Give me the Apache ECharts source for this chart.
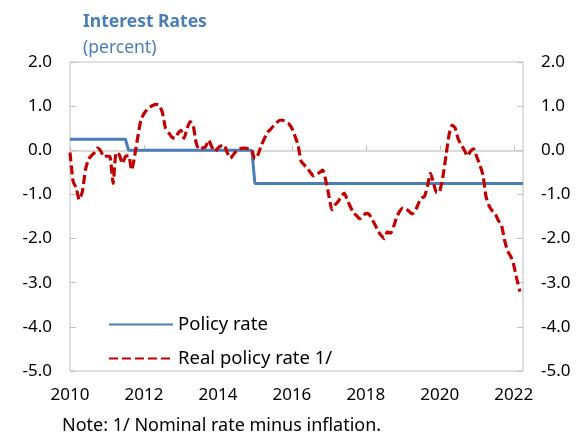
<!DOCTYPE html>
<html>
<head>
<meta charset="utf-8">
<script src="https://cdn.jsdelivr.net/npm/echarts@6/dist/echarts.min.js"></script>
<style>
  html, body { margin: 0; padding: 0; background: #fff; }
  #chart { width: 582px; height: 438px; }
</style>
</head>
<body>
<div id="chart"></div>
<script>
// Monthly categories, Jan 2010 to Apr 2022
const months = [];
for (let y = 2010; y <= 2022; y++) {
  for (let m = 1; m <= 12; m++) {
    if (y === 2022 && m > 4) break;
    months.push(y + '-' + String(m).padStart(2, '0'));
  }
}

// Policy rate: level changes (month, percent)
const policyRate = [
  ['2010-01', 0.25], ['2011-07', 0.25],
  ['2011-08', 0.00], ['2014-12', 0.00],
  ['2015-01', -0.75], ['2022-04', -0.75]
];

// Real policy rate (nominal rate minus inflation), monthly from Jan 2010
const realPolicyRate = [
  -0.05, -0.70, -0.85, -1.12, -0.94, -0.45, -0.20, -0.12, -0.05, 0.05, -0.02, -0.15,
  -0.13, -0.15, -0.75, -0.05, -0.10, -0.30, -0.14, -0.12, -0.45, -0.12, 0.30, 0.68,
  0.83, 0.92, 0.98, 1.02, 1.04, 1.02, 0.85, 0.50, 0.40, 0.30, 0.27, 0.38,
  0.45, 0.27, 0.50, 0.65, 0.55, 0.15, 0.02, 0.05, 0.08, 0.23, 0.08, -0.03,
  0.05, 0.10, 0.12, -0.05, -0.18, -0.10, -0.02, 0.03, 0.05, 0.05, 0.03, 0.00,
  -0.20, -0.10, 0.10, 0.25, 0.40, 0.47, 0.55, 0.62, 0.68, 0.68, 0.64, 0.60,
  0.50, 0.32, 0.12, -0.25, -0.33, -0.40, -0.50, -0.58, -0.55, -0.50, -0.45, -0.68,
  -1.02, -1.35, -1.24, -1.16, -1.05, -0.97, -1.13, -1.28, -1.42, -1.48, -1.55, -1.50,
  -1.43, -1.45, -1.56, -1.69, -1.83, -1.93, -2.00, -1.85, -1.88, -1.73, -1.52, -1.38,
  -1.31, -1.33, -1.38, -1.44, -1.38, -1.22, -1.08, -1.05, -0.82, -0.52, -0.75, -0.97,
  -0.92, -0.60, -0.13, 0.35, 0.57, 0.50, 0.25, 0.12, 0.00, -0.13, -0.02, 0.03,
  -0.15, -0.33, -0.56, -1.05, -1.26, -1.37, -1.44, -1.59, -1.69, -2.03, -2.28, -2.40,
  -2.60, -2.92, -3.20
];

const BLUE = '#4a7eb5';
const RED = '#c00000';
const FONT = 'Noto Sans';

const chart = echarts.init(document.getElementById('chart'), null, { renderer: 'canvas' });

const yAxisCommon = {
  type: 'value',
  min: -5, max: 2, interval: 1,
  splitLine: { show: false },
  axisLine: { show: false, onZero: false },
  axisTick: { show: true, inside: true, length: 6, lineStyle: { color: '#bfbfbf', width: 1 } },
  axisLabel: {
    margin: 18, fontSize: 17, fontFamily: FONT, color: '#000',
    formatter: v => v.toFixed(1)
  }
};

chart.setOption({
  animation: false,
  backgroundColor: '#fff',
  textStyle: { fontFamily: FONT },
  title: [
    { text: 'Interest Rates', left: 78, top: 8,
      textStyle: { fontSize: 17.5, fontWeight: 'bold', color: BLUE, fontFamily: FONT } },
    { text: '(percent)', left: 78, top: 34,
      textStyle: { fontSize: 17.5, fontWeight: 'normal', color: BLUE, fontFamily: FONT } }
  ],
  grid: {
    left: 70, right: 59, top: 62, bottom: 67,
    show: true, borderColor: '#bfbfbf', borderWidth: 1, backgroundColor: 'transparent'
  },
  legend: {
    orient: 'vertical', left: 103, top: 310, itemGap: 15,
    itemWidth: 64, itemHeight: 14,
    itemStyle: { opacity: 0, borderWidth: 0 },
    textStyle: { fontSize: 18.5, color: '#000', fontFamily: FONT },
    data: ['Policy rate', 'Real policy rate 1/']
  },
  xAxis: [
    {
      type: 'category', data: months, boundaryGap: false, position: 'bottom',
      axisLine: { show: false, onZero: false },
      axisTick: { show: false },
      splitLine: { show: false },
      axisLabel: {
        interval: 23, margin: 16, fontSize: 17, fontFamily: FONT, color: '#000',
        formatter: v => v.slice(0, 4)
      }
    },
    {
      type: 'category', data: months, boundaryGap: false, position: 'bottom',
      axisLine: { show: true, onZero: true, lineStyle: { color: '#d9d9d9', width: 2 } },
      axisTick: { show: true, inside: true, interval: 23, length: 5, lineStyle: { color: '#bfbfbf', width: 1 } },
      axisLabel: { show: false },
      splitLine: { show: false }
    }
  ],
  yAxis: [
    Object.assign({ position: 'left' }, yAxisCommon),
    Object.assign({ position: 'right' }, yAxisCommon)
  ],
  series: [
    {
      name: 'Policy rate', type: 'line', xAxisIndex: 0, yAxisIndex: 0,
      data: policyRate, symbol: 'none',
      lineStyle: { color: BLUE, width: 3 }, itemStyle: { color: BLUE }
    },
    {
      name: 'Real policy rate 1/', type: 'line', xAxisIndex: 0, yAxisIndex: 0,
      data: realPolicyRate, symbol: 'none', smooth: 0.2,
      lineStyle: { color: RED, width: 3.2, type: [9, 4] }, itemStyle: { color: RED }
    }
  ],
  graphic: [
    { type: 'text', left: 62, top: 417,
      style: { text: 'Note: 1/ Nominal rate minus inflation.', fontSize: 18, fontFamily: FONT, fill: '#000' } }
  ]
});
</script>
</body>
</html>
